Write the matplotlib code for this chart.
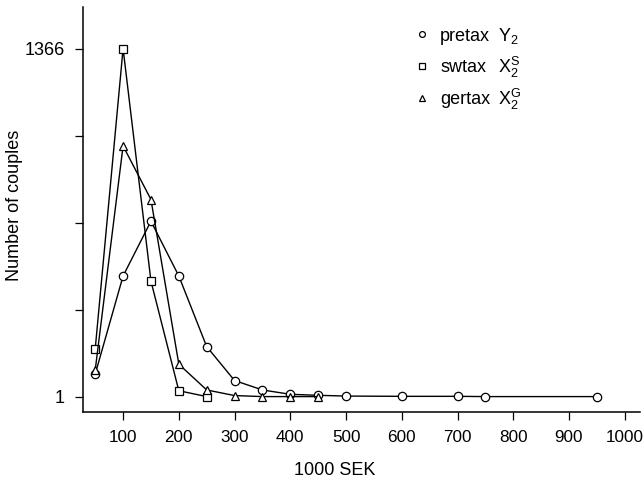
import numpy as np
import matplotlib
matplotlib.use("Agg")
import matplotlib.pyplot as plt

plt.rcParams['font.family'] = ['Liberation Sans', 'DejaVu Sans']
plt.rcParams['mathtext.fontset'] = 'custom'
plt.rcParams['mathtext.rm'] = 'Liberation Sans'
plt.rcParams['mathtext.it'] = 'Liberation Sans'

# income classes, 1000 SEK
x_pretax = [50, 100, 150, 200, 250, 300, 350, 400, 450, 500, 600, 700, 750, 950]
y_pretax = [89, 474, 689, 474, 197, 64, 27, 10, 6, 3, 2, 2, 1, 1]

x_swtax = [50, 100, 150, 200, 250]
y_swtax = [188, 1366, 454, 24, 1]

x_gertax = [50, 100, 150, 200, 250, 300, 350, 400, 450]
y_gertax = [105, 984, 774, 128, 27, 5, 1, 1, 1]

labels = ["pretax", "swtax", "gertax"]
symbols = [r"$\mathrm{Y}_2$", r"$\mathrm{X}_2^\mathrm{S}$", r"$\mathrm{X}_2^\mathrm{G}$"]
xticks = [100, 200, 300, 400, 500, 600, 700, 800, 900, 1000]

fs = 13

fig = plt.figure(figsize=(6.43, 4.84), dpi=100)
ax = fig.add_axes([0.129, 0.149, 0.866, 0.836])

style = dict(color='black', lw=1, mfc='white', mec='black', ms=6, mew=0.9)
ax.plot(x_pretax, y_pretax, marker='o', label=labels[0], **style)
ax.plot(x_swtax, y_swtax, marker='s', label=labels[1], **style)
ax.plot(x_gertax, y_gertax, marker='^', label=labels[2], **style)

ax.set_xlim(28, 1027)
ax.set_ylim(-59, 1528)
ax.set_xticks(xticks)
ax.set_xticklabels([str(t) for t in xticks], fontsize=12.3)
yt = np.linspace(1, 1366, 5)
ax.set_yticks(yt)
ax.set_yticklabels(["1", "", "", "", "1366"], fontsize=fs)
ax.tick_params(direction='out', length=6, width=0.9, pad=7)
for s in ['top', 'right']:
    ax.spines[s].set_visible(False)
for s in ['left', 'bottom']:
    ax.spines[s].set_linewidth(1.1)

ax.set_xlabel("1000 SEK", fontsize=fs)
ax.set_ylabel("Number of couples", fontsize=fs)
ax.xaxis.set_label_coords(0.452, -0.125)
ax.yaxis.set_label_coords(-0.108, 0.511)

leg = ax.legend(loc='upper left', bbox_to_anchor=(0.567, 0.99), frameon=False,
                fontsize=fs, handlelength=0.8, handletextpad=0.6,
                labelspacing=0.82, markerscale=0.7)
for h in leg.legend_handles:
    h.set_linestyle('none')

fig.canvas.draw()
inv = ax.transAxes.inverted()
for txt, sym in zip(leg.get_texts(), symbols):
    bb = txt.get_window_extent()
    xa, ya = inv.transform((bb.x0, (bb.y0 + bb.y1) / 2))
    ax.text(0.745, ya, sym, transform=ax.transAxes, fontsize=fs,
            va='center', ha='left')

fig.savefig("out.png", dpi=100)
